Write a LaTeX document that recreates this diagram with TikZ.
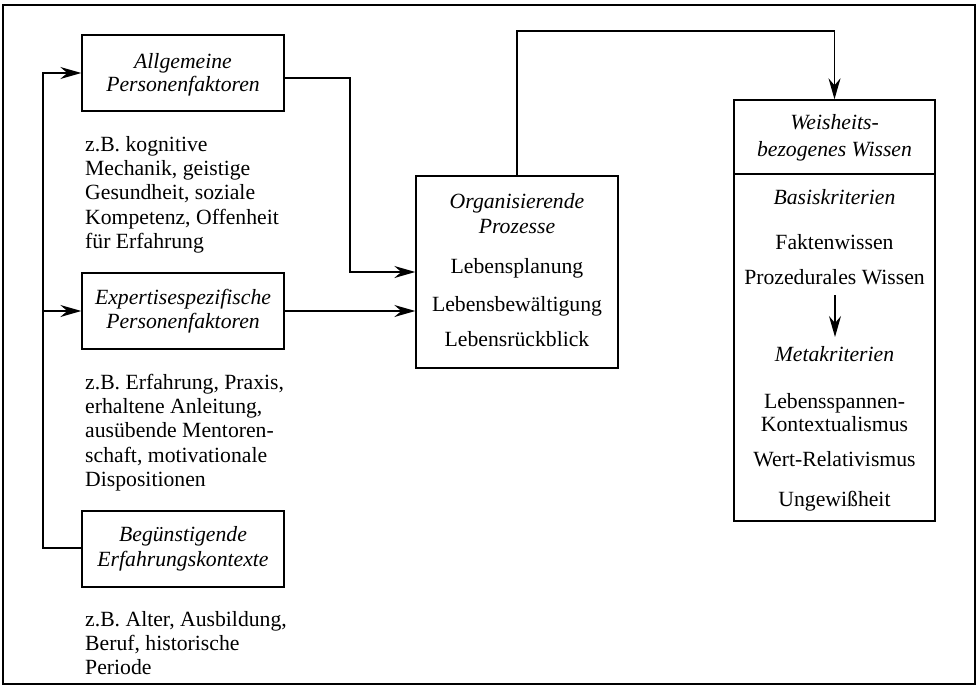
\documentclass[tikz,border=0pt]{standalone}
\usepackage{fontspec}
\setmainfont{Liberation Serif}
\usetikzlibrary{arrows.meta}
\begin{document}
\begin{tikzpicture}[x=1pt,y=-1pt,
  every node/.style={font=\fontsize{21.7}{24.2}\selectfont},
  boxframe/.style={draw, line width=1.4pt, inner sep=0pt},
  ln/.style={line width=1.3pt},
  arr/.style={line width=1.3pt, -{Stealth[length=21pt,width=12pt,inset=7pt]}},
  it/.style={anchor=base, inner sep=0pt, font=\fontsize{21.7}{24.2}\selectfont\itshape},
  rm/.style={anchor=base, inner sep=0pt},
  lt/.style={anchor=base west, inner sep=0pt}]
\useasboundingbox (0,0) rectangle (978,686);
\draw[line width=1.2pt] (3,5) rectangle (975,684);

% boxes
\node[boxframe, minimum width=202pt, minimum height=76pt] (A) at (183,73) {};
\node[boxframe, minimum width=202pt, minimum height=76pt] (B) at (183,311) {};
\node[boxframe, minimum width=202pt, minimum height=76pt] (C) at (183,549) {};
\node[boxframe, minimum width=202pt, minimum height=192pt] (D) at (517,272) {};
\node[boxframe, minimum width=201pt, minimum height=421pt] (E) at (834.5,310.5) {};
\coordinate (sepL) at (734,174);
\coordinate (sepR) at (935,174);
\draw[line width=1.4pt] (sepL) -- (sepR);

% box texts
\node[it] (a1) at (183,68.5) {Allgemeine};
\node[it] (a2) at (183,91.5) {Personenfaktoren};
\node[it] (b1) at (183,304.5) {Expertisespezifische};
\node[it] (b2) at (183,328.5) {Personenfaktoren};
\node[it] (c1) at (183,541.5) {Begünstigende};
\node[it] (c2) at (183,566.5) {Erfahrungskontexte};

\node[it] (d1) at (517,208.5) {Organisierende};
\node[it] (d2) at (517,233.5) {Prozesse};
\node[rm] (d3) at (517,273.5) {Lebensplanung};
\node[rm] (d4) at (517,311.5) {Lebensbewältigung};
\node[rm] (d5) at (517,346.5) {Lebensrückblick};

\node[it] (e1) at (834.5,129.5) {Weisheits-};
\node[it] (e2) at (834.5,156.5) {bezogenes Wissen};
\node[it] (e3) at (834.5,204.5) {Basiskriterien};
\node[rm] (e4) at (834.5,249.5) {Faktenwissen};
\node[rm] (e5) at (834.5,284.5) {Prozedurales Wissen};
\node[it] (e6) at (834.5,361.5) {Metakriterien};
\node[rm] (e7) at (834.5,408.5) {Lebensspannen-};
\node[rm] (e8) at (834.5,431.5) {Kontextualismus};
\node[rm] (e9) at (834.5,466.5) {Wert-Relativismus};
\node[rm] (e10) at (834.5,506.5) {Ungewißheit};

% left texts
\node[lt] (ta1) at (85,151.5) {z.B. kognitive};
\node[lt] (ta2) at (85,175.7) {Mechanik, geistige};
\node[lt] (ta3) at (85,199.9) {Gesundheit, soziale};
\node[lt] (ta4) at (85,224.1) {Kompetenz, Offenheit};
\node[lt] (ta5) at (85,248.3) {für Erfahrung};

\node[lt] (tb1) at (85,389.5) {z.B. Erfahrung, Praxis,};
\node[lt] (tb2) at (85,413.7) {erhaltene Anleitung,};
\node[lt] (tb3) at (85,437.9) {ausübende Mentoren-};
\node[lt] (tb4) at (85,462.1) {schaft, motivationale};
\node[lt] (tb5) at (85,486.3) {Dispositionen};

\node[lt] (tc1) at (85,626) {z.B. Alter, Ausbildung,};
\node[lt] (tc2) at (85,650.2) {Beruf, historische};
\node[lt] (tc3) at (85,674.4) {Periode};

% connectors
\coordinate (bus) at (43,548);
\coordinate (busB) at (43,311);
\draw[arr] (C.west |- bus) -- (bus) |- (A.west);
\draw[arr] (busB) -- (B.west);

\coordinate (jA) at (350,78);
\draw[arr] (A.east |- jA) -- (jA) |- (D.west);
\draw[arr] (B.east) -- (B.east -| D.west);

\coordinate (top) at (517,31);
\draw[arr] (D.north) -- (top) -| (E.north);

\coordinate (ia) at (835,295);
\coordinate (ib) at (835,337);
\draw[arr] (ia) -- (ib);
\end{tikzpicture}
\end{document}
